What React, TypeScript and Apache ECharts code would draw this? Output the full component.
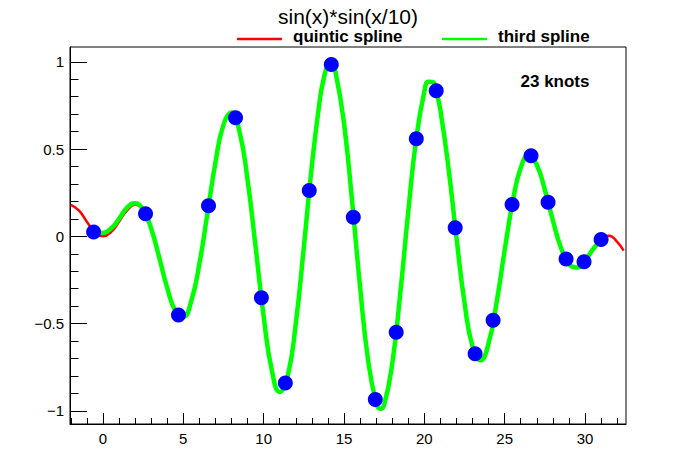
import React, { useEffect, useRef } from "react";
import * as echarts from "echarts";

// Knots (blue markers)
const knotX = [-0.58, 2.65, 4.7, 6.57, 8.25, 9.86, 11.35, 12.84, 14.21, 15.58, 16.95, 18.25, 19.5, 20.74, 21.92, 23.16, 24.28, 25.46, 26.64, 27.7, 28.82, 29.94, 31.0];
const knotY = [0.025, 0.13, -0.45, 0.175, 0.679, -0.351, -0.84, 0.263, 0.985, 0.11, -0.935, -0.55, 0.56, 0.835, 0.05, -0.672, -0.48, 0.183, 0.462, 0.195, -0.13, -0.146, -0.018];

// Quintic spline (red) samples
const quinticX = [-2, -1.5, -1, -0.5, 0, 0.5, 1, 1.5, 2, 2.5, 3, 3.5, 4, 4.5, 5, 5.5, 6, 6.5, 7, 7.5, 8, 8.5, 9, 9.5, 10, 10.5, 11, 11.5, 12, 12.5, 13, 13.5, 13.75, 14, 14.25, 14.5, 15, 15.5, 16, 16.5, 17, 17.25, 17.5, 18, 18.5, 19, 19.5, 20, 20.25, 20.5, 20.75, 21, 21.5, 22, 22.5, 23, 23.5, 24, 24.5, 25, 25.5, 26, 26.5, 27, 27.5, 28, 28.5, 29, 29.5, 30, 30.5, 31, 31.5, 32, 32.4];
const quinticY = [0.181, 0.149, 0.084, 0.024, 0.0, 0.024, 0.084, 0.149, 0.181, 0.148, 0.042, -0.12, -0.295, -0.425, -0.46, -0.369, -0.158, 0.13, 0.423, 0.639, 0.71, 0.6, 0.323, -0.061, -0.458, -0.763, -0.891, -0.799, -0.5, -0.063, 0.405, 0.784, 0.908, 0.976, 0.983, 0.928, 0.649, 0.207, -0.288, -0.71, -0.953, -0.988, -0.965, -0.731, -0.329, 0.142, 0.563, 0.83, 0.886, 0.885, 0.828, 0.722, 0.395, -0.007, -0.379, -0.631, -0.71, -0.612, -0.377, -0.079, 0.198, 0.393, 0.465, 0.409, 0.267, 0.091, -0.064, -0.159, -0.179, -0.139, -0.073, -0.017, 0.004, -0.032, -0.082];

// Third-order spline (green) samples
const thirdX = [-0.58, 0, 0.5, 1, 1.5, 2, 2.5, 3, 3.5, 4, 4.5, 5, 5.5, 6, 6.5, 7, 7.5, 8, 8.5, 9, 9.5, 10, 10.5, 11, 11.5, 12, 12.5, 13, 13.5, 13.75, 14, 14.25, 14.5, 15, 15.5, 16, 16.5, 17, 17.25, 17.5, 18, 18.5, 19, 19.5, 20, 20.25, 20.5, 20.75, 21, 21.5, 22, 22.5, 23, 23.5, 24, 24.5, 25, 25.5, 26, 26.5, 27, 27.5, 28, 28.5, 29, 29.5, 30, 30.5, 31];
const thirdY = [0.025, 0.02, 0.045, 0.1, 0.165, 0.19, 0.152, 0.045, -0.12, -0.295, -0.425, -0.46, -0.369, -0.158, 0.13, 0.423, 0.639, 0.71, 0.6, 0.323, -0.061, -0.458, -0.763, -0.891, -0.799, -0.5, -0.063, 0.405, 0.784, 0.908, 0.976, 0.983, 0.928, 0.649, 0.207, -0.288, -0.71, -0.953, -0.988, -0.965, -0.731, -0.329, 0.142, 0.563, 0.83, 0.886, 0.885, 0.828, 0.722, 0.395, -0.007, -0.379, -0.631, -0.71, -0.612, -0.377, -0.079, 0.198, 0.393, 0.465, 0.409, 0.267, 0.091, -0.064, -0.159, -0.179, -0.139, -0.073, -0.018];

// Axis ticks
const xMajorTicks = [0, 5, 10, 15, 20, 25, 30];
const xMinorTicks = [-2, -1, 0, 1, 2, 3, 4, 5, 6, 7, 8, 9, 10, 11, 12, 13, 14, 15, 16, 17, 18, 19, 20, 21, 22, 23, 24, 25, 26, 27, 28, 29, 30, 31, 32];
const yMajorTicks = [-1, -0.5, 0, 0.5, 1];
const yMinorTicks = [-1, -0.9, -0.8, -0.7, -0.6, -0.5, -0.4, -0.3, -0.2, -0.1, 0, 0.1, 0.2, 0.3, 0.4, 0.5, 0.6, 0.7, 0.8, 0.9, 1];

const titleText = "sin(x)*sin(x/10)";
const legendNames = ["quintic spline", "third spline"];
const knotsLabel = "23 knots";

const FONT = "'Liberation Sans', Arial, Helvetica, sans-serif";

export default function App() {
  const ref = useRef<HTMLDivElement>(null);
  useEffect(() => {
    if (!ref.current) return;
    const chart = echarts.init(ref.current, undefined, { renderer: "svg" });
    const xMin = -2.05, xMax = 32.55, yMin = -1.075, yMax = 1.085;
    const axisLine = { show: true, onZero: false, lineStyle: { color: "#000", width: 1 } };
    const noLine = { show: false, onZero: false };
    chart.setOption({
      animation: false,
      backgroundColor: "#fff",
      grid: { left: 70, right: 70, top: 47, bottom: 48, show: true, borderColor: "#000", borderWidth: 1, backgroundColor: "transparent" },
      xAxis: [
        {
          type: "value", min: xMin, max: xMax, position: "bottom",
          axisLine,
          splitLine: { show: false },
          axisTick: { show: true, inside: true, length: 11, customValues: xMajorTicks, lineStyle: { color: "#000", width: 1 } },
          axisLabel: { show: true, customValues: xMajorTicks, color: "#000", fontSize: 15, fontFamily: FONT, margin: 7 },
        },
        {
          type: "value", min: xMin, max: xMax, position: "bottom",
          axisLine: noLine,
          splitLine: { show: false },
          axisTick: { show: true, inside: true, length: 6, customValues: xMinorTicks, lineStyle: { color: "#000", width: 1 } },
          axisLabel: { show: false },
        },
      ],
      yAxis: [
        {
          type: "value", min: yMin, max: yMax, position: "left",
          axisLine,
          splitLine: { show: false },
          axisTick: { show: true, inside: true, length: 17, customValues: yMajorTicks, lineStyle: { color: "#000", width: 1 } },
          axisLabel: {
            show: true, customValues: yMajorTicks, color: "#000", fontSize: 15, fontFamily: FONT, margin: 6,
            formatter: (v: number) => String(v).replace("-", "\u2212"),
          },
        },
        {
          type: "value", min: yMin, max: yMax, position: "left",
          axisLine: noLine,
          splitLine: { show: false },
          axisTick: { show: true, inside: true, length: 8.5, customValues: yMinorTicks, lineStyle: { color: "#000", width: 1 } },
          axisLabel: { show: false },
        },
      ],
      series: [
        {
          name: legendNames[0], type: "line", xAxisIndex: 0, yAxisIndex: 0,
          data: quinticX.map((x, i) => [x, quinticY[i]]),
          smooth: true, showSymbol: false, symbol: "none",
          lineStyle: { color: "#ff0000", width: 2.5 }, clip: true, z: 2,
        },
        {
          name: legendNames[1], type: "line", xAxisIndex: 0, yAxisIndex: 0,
          data: thirdX.map((x, i) => [x, thirdY[i]]),
          smooth: true, showSymbol: false, symbol: "none",
          lineStyle: { color: "#00ff00", width: 4.5 }, clip: true, z: 3,
        },
        {
          name: "knots", type: "scatter", xAxisIndex: 0, yAxisIndex: 0,
          data: knotX.map((x, i) => [x, knotY[i]]),
          symbol: "circle", symbolSize: 15,
          itemStyle: { color: "#0000ff", opacity: 1 }, z: 4,
        },
      ],
      graphic: [
        { type: "text", x: 348, y: 16, style: { text: titleText, fontSize: 21, fontFamily: FONT, fill: "#000", align: "center", verticalAlign: "middle" } },
        { type: "line", shape: { x1: 237, y1: 39, x2: 282, y2: 39 }, style: { stroke: "#ff0000", lineWidth: 2.5 } },
        { type: "text", x: 293, y: 36, style: { text: legendNames[0], fontSize: 17, fontWeight: "bold", fontFamily: FONT, fill: "#000", align: "left", verticalAlign: "middle" } },
        { type: "line", shape: { x1: 442, y1: 39, x2: 487, y2: 39 }, style: { stroke: "#00ff00", lineWidth: 2.5 } },
        { type: "text", x: 498, y: 36, style: { text: legendNames[1], fontSize: 17, fontWeight: "bold", fontFamily: FONT, fill: "#000", align: "left", verticalAlign: "middle" } },
        { type: "text", x: 555, y: 81, style: { text: knotsLabel, fontSize: 17, fontWeight: "bold", fontFamily: FONT, fill: "#000", align: "center", verticalAlign: "middle" } },
      ],
    });
    return () => chart.dispose();
  }, []);
  return <div ref={ref} style={{ position: "fixed", left: 0, top: 0, width: 696, height: 472 }} />;
}
